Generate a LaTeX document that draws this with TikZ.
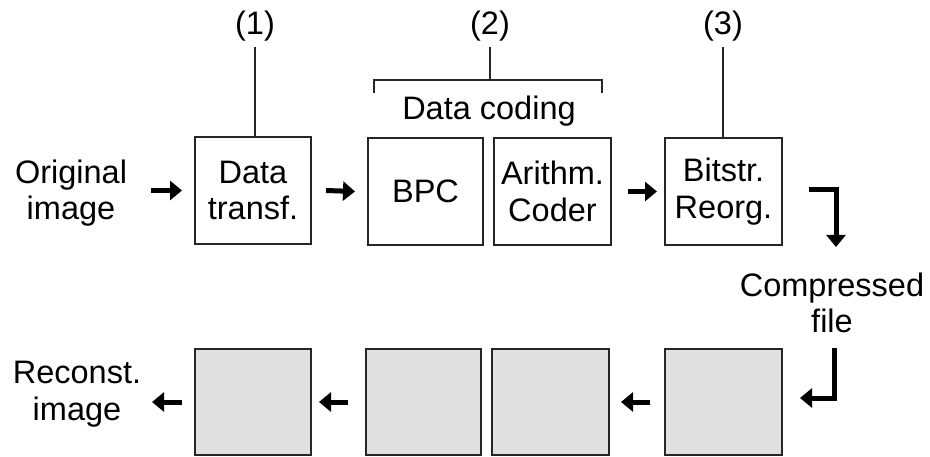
\documentclass[tikz,border=0pt]{standalone}
\usepackage{fontspec}
\setmainfont{Liberation Sans}
\usetikzlibrary{arrows.meta}
\begin{document}
\begin{tikzpicture}[x=1pt,y=-1pt,
  every node/.style={font=\fontsize{32.5}{36.5}\selectfont, inner sep=0pt, align=center},
  blk/.style={draw=black!85, line width=2pt, minimum height=107pt},
  gblk/.style={blk, fill=black!12, minimum height=106pt},
  arr/.style={line width=5pt, -{Triangle[length=12pt,width=19pt]}},
  thin line/.style={line width=2pt, black!85}]
\useasboundingbox (0,0) rectangle (930,457);
% top row
\node[blk, minimum width=116pt] (dt) at (253,190.5) {Data\\transf.};
\node[blk, minimum width=115pt] (bpc) at (425.5,191.5) {BPC};
\node[blk, minimum width=117pt] (ac) at (552.5,191.5) {Arithm.\\Coder};
\node[blk, minimum width=117pt] (br) at (723.5,191.5) {Bitstr.\\Reorg.};
\node (orig) at (71,193) {Original\\image};
\node (l1) at (255,26) {(1)};
\node (l2) at (490,26) {(2)};
\node (l3) at (723,26) {(3)};
\node (dc) at (489,111) {Data coding};
\node (cf) at (832,303) {Compressed\\file};
% bottom row
\node[gblk, minimum width=116pt] (b1) at (253,402) {};
\node[gblk, minimum width=115pt] (b2) at (423.5,402) {};
\node[gblk, minimum width=117pt] (b3) at (550.5,402) {};
\node[gblk, minimum width=117pt] (b4) at (723.5,402) {};
\node (rec) at (77,394) {Reconst.\\image};
% coordinates
\coordinate (l1b) at (255,47);
\coordinate (l2b) at (490,47);
\coordinate (l3b) at (723,47);
\coordinate (brL) at (374,93);
\coordinate (brR) at (602,93);
\coordinate (brM) at (490,80);
% label lines
\draw[thin line] (l1b) -- (l1b |- dt.north);
\draw[thin line] (l3b) -- (l3b |- br.north);
\draw[thin line] (l2b) -- (brM);
\draw[thin line] (brL) -- (brL |- brM) -- (brR |- brM) -- (brR);
% top arrows
\draw[arr] ([xshift=-43]dt.west) -- ([xshift=-12]dt.west);
\draw[arr] ([xshift=14]dt.east) -- ([xshift=-12]bpc.west);
\draw[arr] ([xshift=16]ac.east) -- ([xshift=-7]br.west);
\coordinate (t1) at (809,190);
\coordinate (t2) at (836,190);
\coordinate (t3) at (836,247);
\draw[arr] (t1) -- (t2) -- (t3);
% bottom arrows
\coordinate (u1) at (834,348);
\coordinate (u2) at (834,398);
\coordinate (u3) at (800,398);
\draw[arr] (u1) -- (u2) -- (u3);
\draw[arr] ([xshift=-14]b4.west) -- ([xshift=11]b3.east);
\draw[arr] ([xshift=-17]b2.west) -- ([xshift=7]b1.east);
\draw[arr] ([xshift=-12]b1.west) -- ([xshift=-42]b1.west);
\end{tikzpicture}
\end{document}
